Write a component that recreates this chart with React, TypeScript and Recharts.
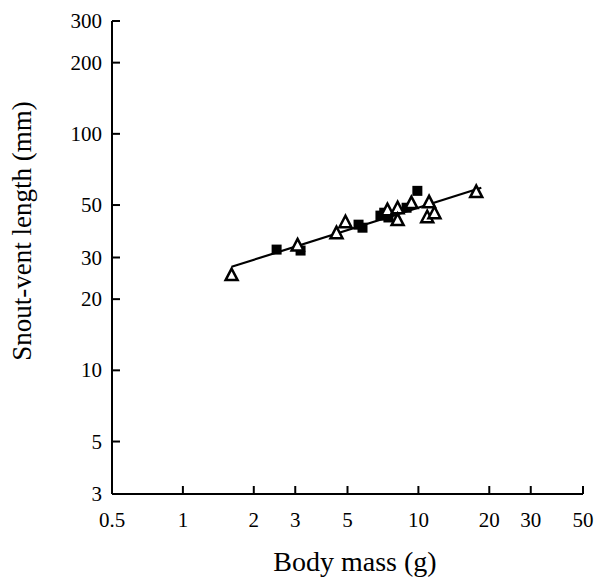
import React from "react";
import { ScatterChart, Scatter, XAxis, YAxis } from "recharts";

// open triangles: [body mass g, SVL mm]
const triMass = [1.61, 3.07, 4.49, 4.9, 7.39, 8.16, 8.16, 9.34, 11.1, 10.9, 11.7, 17.6];
const triSvl = [25.4, 33.9, 38.2, 42.5, 47.8, 48.7, 43.4, 51.2, 51.6, 44.6, 46.4, 57.0];

// filled squares
const sqMass = [2.5, 3.16, 5.57, 5.79, 6.9, 7.16, 7.46, 8.91, 9.9];
const sqSvl = [32.4, 32.1, 41.3, 40.1, 45.1, 46.4, 44.3, 48.7, 57.4];

// fitted line end points
const fitMass = [1.61, 18.5];
const fitSvl = [27.4, 59.2];

const xTicks = [0.5, 1, 2, 3, 5, 10, 20, 30, 50];
const yTicks = [3, 5, 10, 20, 30, 50, 100, 200, 300];

const FONT = "'Liberation Serif', 'DejaVu Serif', serif";

const zip = (xs: number[], ys: number[]) => xs.map((x, i) => ({ x, y: ys[i] }));
const triData = zip(triMass, triSvl);
const sqData = zip(sqMass, sqSvl);
const fitData = zip(fitMass, fitSvl);

// ticks point inward, so draw the tick mark and label ourselves
function XTick(props: any) {
  const { x, y, payload } = props;
  return (
    <g>
      <line x1={x} x2={x} y1={y} y2={y - 8} stroke="#000" strokeWidth={2} />
      <text x={x} y={y + 33} textAnchor="middle" fontFamily={FONT} fontSize={21} fill="#000">
        {payload.value}
      </text>
    </g>
  );
}

function YTick(props: any) {
  const { x, y, payload } = props;
  return (
    <g>
      <line x1={x} x2={x + 8} y1={y} y2={y} stroke="#000" strokeWidth={2} />
      <text x={x - 10} y={y + 7} textAnchor="end" fontFamily={FONT} fontSize={21} fill="#000">
        {payload.value}
      </text>
    </g>
  );
}

function Triangle(props: any) {
  const { cx, cy } = props;
  return (
    <polygon
      points={`${cx},${cy - 6} ${cx - 6},${cy + 5.5} ${cx + 6},${cy + 5.5}`}
      fill="#fff"
      stroke="#000"
      strokeWidth={2.5}
    />
  );
}

function Square(props: any) {
  const { cx, cy } = props;
  return <rect x={cx - 5} y={cy - 5} width={10} height={10} fill="#000" />;
}

export default function App() {
  return (
    <div style={{ position: "absolute", left: 0, top: 0, width: 603, height: 580, background: "#fff" }}>
      <ScatterChart width={603} height={580} margin={{ top: 21, right: 20, bottom: 46, left: 52 }}>
        <XAxis
          type="number"
          dataKey="x"
          scale="log"
          domain={[0.5, 50]}
          ticks={xTicks}
          interval={0}
          allowDataOverflow
          height={40}
          tickLine={false}
          tickSize={0}
          tickMargin={0}
          tick={<XTick />}
          axisLine={{ stroke: "#000", strokeWidth: 2 }}
        />
        <YAxis
          type="number"
          dataKey="y"
          scale="log"
          domain={[3, 300]}
          ticks={yTicks}
          interval={0}
          allowDataOverflow
          width={60}
          tickLine={false}
          tickSize={0}
          tickMargin={0}
          tick={<YTick />}
          axisLine={{ stroke: "#000", strokeWidth: 2 }}
        />
        <Scatter
          data={fitData}
          line={{ stroke: "#000", strokeWidth: 2.2 }}
          shape={() => <g />}
          isAnimationActive={false}
        />
        <Scatter data={sqData} shape={<Square />} isAnimationActive={false} />
        <Scatter data={triData} shape={<Triangle />} isAnimationActive={false} />
        <text
          x={31}
          y={231}
          transform="rotate(-90, 31, 231)"
          textAnchor="middle"
          fontFamily={FONT}
          fontSize={27}
          fill="#000"
        >
          Snout-vent length (mm)
        </text>
        <text x={355} y={571} textAnchor="middle" fontFamily={FONT} fontSize={28} fill="#000">
          Body mass (g)
        </text>
      </ScatterChart>
    </div>
  );
}
